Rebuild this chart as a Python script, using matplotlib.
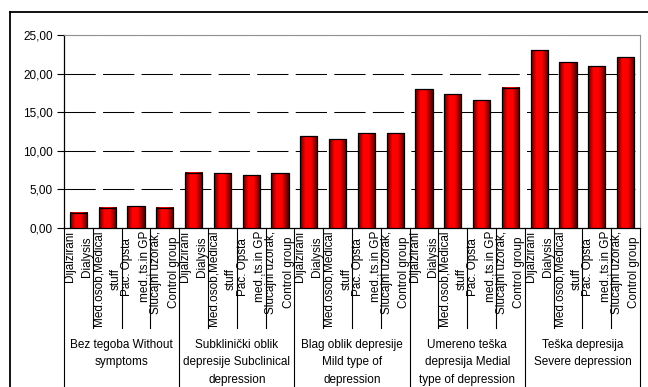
import numpy as np
import matplotlib.pyplot as plt
from matplotlib.colors import LinearSegmentedColormap
from matplotlib.transforms import blended_transform_factory

plt.rcParams['font.family'] = ['Liberation Sans', 'DejaVu Sans']

# depression level groups and respondent categories
groups = [
    "Bez tegoba Without\nsymptoms",
    "Subklinički oblik\ndepresije Subclinical\ndepression",
    "Blag oblik depresije\nMild type of\ndepression",
    "Umereno teška\ndepresija Medial\ntype of depression",
    "Teška depresija\nSevere depression",
]
categories = [
    "Dijalzirani\nDialysis",
    "Med.osob,Medical\nstuff",
    "Pac. Opsta\nmed.,ts.in GP",
    "Slucajni uzorak,\nControl group",
]
# one row per group, one column per category
values = [
    [1.95, 2.60, 2.80, 2.60],
    [7.15, 7.10, 6.85, 7.10],
    [11.90, 11.50, 12.30, 12.30],
    [18.00, 17.35, 16.55, 18.15],
    [23.00, 21.45, 20.95, 22.10],
]
yticks = [0, 5, 10, 15, 20, 25]

W, H = 648, 387
fig = plt.figure(figsize=(W / 100, H / 100), dpi=100)
ax = fig.add_axes([64 / W, 1 - 228 / H, (640 - 64) / W, (228 - 35) / H])

flat = [v for row in values for v in row]
xs = np.arange(len(flat))
bw = 0.6

# shaded red bars (dark edges, bright centre)
cmap = LinearSegmentedColormap.from_list(
    "barshade", [(0, "#5a0000"), (0.3, "#ff0000"), (0.6, "#ff0000"), (1, "#4a0000")])
grad = np.linspace(0, 1, 64).reshape(1, -1)
for x, v in zip(xs, flat):
    ax.imshow(grad, extent=[x - bw / 2, x + bw / 2, 0, v], aspect='auto',
              cmap=cmap, zorder=3, interpolation='bilinear')
ax.bar(xs, flat, width=bw, facecolor='none', edgecolor='black', linewidth=0.9, zorder=4)

ax.set_xlim(-0.5, len(flat) - 0.5)
ax.set_ylim(0, 25)
ax.set_yticks(yticks)
ax.set_yticklabels([f"{t:.2f}".replace('.', ',') for t in yticks], fontsize=8.5)
ax.tick_params(axis='y', length=5, width=0.8, pad=3)
ax.set_xticks([])

# dashed gridlines
for t in yticks[1:]:
    ln = ax.axhline(t, color='black' if t < 25 else '#707070', linewidth=0.75, zorder=1)
    ln.set_dashes((30, 7))

for s in ['top', 'right']:
    ax.spines[s].set_color('#909090')
    ax.spines[s].set_linewidth(0.8)
ax.spines['left'].set_linewidth(0.9)
ax.spines['bottom'].set_linewidth(0.9)

# category / group label area below the axis
tr = blended_transform_factory(ax.transData, ax.transAxes)
px = 1 / (228 - 35)
ycat = -(328 - 228) * px
ybot = -(400 - 228) * px
n = len(categories)
for i in range(len(flat) + 1):
    end = ybot if i % n == 0 else ycat
    ax.plot([i - 0.5, i - 0.5], [0, end], color='black', linewidth=0.8,
            transform=tr, clip_on=False)

for i, x in enumerate(xs):
    ax.text(x, -(231 - 228) * px, categories[i % n], transform=tr, rotation=90,
            ha='center', va='top', multialignment='center', fontsize=8.5,
            linespacing=1.6)

for g, label in enumerate(groups):
    ax.text(g * n + (n - 1) / 2, -(339 - 228) * px, label, transform=tr,
            ha='center', va='top', multialignment='center', fontsize=8.5,
            linespacing=1.6)

# chart frame
fig.add_artist(plt.Line2D([10 / W, 10 / W], [0, 1 - 12 / H], color='black', linewidth=1.3))
fig.add_artist(plt.Line2D([10 / W, 1], [1 - 12 / H, 1 - 12 / H], color='black', linewidth=1.3))

fig.savefig("out.png", dpi=100)
